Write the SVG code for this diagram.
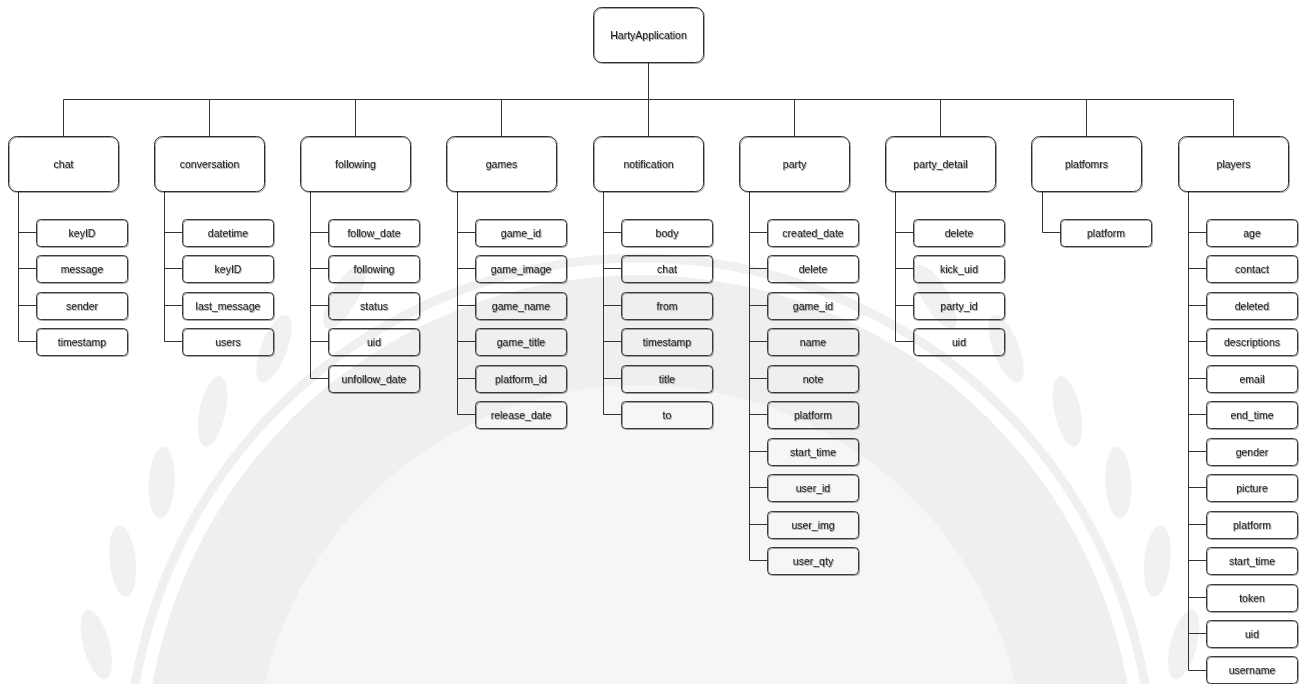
<svg xmlns="http://www.w3.org/2000/svg" xmlns:xlink="http://www.w3.org/1999/xlink" width="1299" height="684" viewBox="0 0 1299 684">
  <style>
    .table rect { fill: none; stroke: #2e2e2e; stroke-width: 1; }
    .field rect { fill: none; stroke: #3a3a3a; stroke-width: 1; }
    text { font-family: "Liberation Sans", Arial, sans-serif; font-size: 10.5px; fill: #222; text-anchor: middle; dominant-baseline: central; }
    .links { fill: none; stroke: #333; stroke-width: 1; }
    .wm-band { fill: #efefef; }
    .wm-inner { fill: #f6f6f6; }
    .wm-ring { fill: none; stroke: #f0f0f0; stroke-width: 9; }
    .wm-leaf { fill: #f1f1f1; }
  </style>
  <defs>
    <filter id="shade" x="-5%" y="-10%" width="115%" height="130%">
      <feDropShadow dx="0.8" dy="0.8" stdDeviation="0.4" flood-color="#000" flood-opacity="0.45"/>
    </filter>
    <ellipse id="leaf" class="wm-leaf" cx="640" cy="212" rx="36" ry="13" transform="rotate(-28 640 212)"/>
  </defs>

  <rect width="1299" height="684" fill="#fff"/>

  <!-- faint background seal -->
  <g id="seal">
    <circle class="wm-band" cx="640" cy="770" r="495"/>
    <circle class="wm-inner" cx="640" cy="770" r="385"/>
    <circle class="wm-ring" cx="640" cy="770" r="512"/>
    <use xlink:href="#leaf" transform="rotate(-86 640 770)"/>
    <use xlink:href="#leaf" transform="rotate(-77 640 770)"/>
    <use xlink:href="#leaf" transform="rotate(-68 640 770)"/>
    <use xlink:href="#leaf" transform="rotate(-59 640 770)"/>
    <use xlink:href="#leaf" transform="rotate(-50 640 770)"/>
    <use xlink:href="#leaf" transform="rotate(-41 640 770)"/>
    <use xlink:href="#leaf" transform="rotate(-32 640 770)"/>
    <use xlink:href="#leaf" transform="rotate(32 640 770) scale(-1 1) translate(-1280 0)"/>
    <use xlink:href="#leaf" transform="rotate(41 640 770) scale(-1 1) translate(-1280 0)"/>
    <use xlink:href="#leaf" transform="rotate(50 640 770) scale(-1 1) translate(-1280 0)"/>
    <use xlink:href="#leaf" transform="rotate(59 640 770) scale(-1 1) translate(-1280 0)"/>
    <use xlink:href="#leaf" transform="rotate(68 640 770) scale(-1 1) translate(-1280 0)"/>
    <use xlink:href="#leaf" transform="rotate(77 640 770) scale(-1 1) translate(-1280 0)"/>
    <use xlink:href="#leaf" transform="rotate(86 640 770) scale(-1 1) translate(-1280 0)"/>
  </g>

  <!-- connectors: root trunk, bus, table drops, field spines and stubs -->
  <g id="connectors" class="links">
    <path d="M648.5 62.5V99.5M63.5 99.5H1233.5"/>
    <path d="M63.5 99.5V136.5M209.5 99.5V136.5M355.5 99.5V136.5M501.5 99.5V136.5M648.5 99.5V136.5M794.5 99.5V136.5M940.5 99.5V136.5M1086.5 99.5V136.5M1233.5 99.5V136.5"/>
    <!-- chat -->
    <path d="M18.5 191.5V341.5M18.5 232.5H36M18.5 268.5H36M18.5 305.5H36M18.5 341.5H36"/>
    <!-- conversation -->
    <path d="M164.5 191.5V341.5M164.5 232.5H182M164.5 268.5H182M164.5 305.5H182M164.5 341.5H182"/>
    <!-- following -->
    <path d="M310.5 191.5V378.5M310.5 232.5H328M310.5 268.5H328M310.5 305.5H328M310.5 341.5H328M310.5 378.5H328"/>
    <!-- games -->
    <path d="M457.5 191.5V414.5M457.5 232.5H475M457.5 268.5H475M457.5 305.5H475M457.5 341.5H475M457.5 378.5H475M457.5 414.5H475"/>
    <!-- notification -->
    <path d="M603.5 191.5V414.5M603.5 232.5H621M603.5 268.5H621M603.5 305.5H621M603.5 341.5H621M603.5 378.5H621M603.5 414.5H621"/>
    <!-- party -->
    <path d="M749.5 191.5V560.5M749.5 232.5H767M749.5 268.5H767M749.5 305.5H767M749.5 341.5H767M749.5 378.5H767M749.5 414.5H767M749.5 451.5H767M749.5 487.5H767M749.5 524.5H767M749.5 560.5H767"/>
    <!-- party_detail -->
    <path d="M895.5 191.5V341.5M895.5 232.5H913M895.5 268.5H913M895.5 305.5H913M895.5 341.5H913"/>
    <!-- platfomrs -->
    <path d="M1042.5 191.5V232.5M1042.5 232.5H1060"/>
    <!-- players -->
    <path d="M1188.5 191.5V670.5M1188.5 232.5H1206M1188.5 268.5H1206M1188.5 305.5H1206M1188.5 341.5H1206M1188.5 378.5H1206M1188.5 414.5H1206M1188.5 451.5H1206M1188.5 487.5H1206M1188.5 524.5H1206M1188.5 560.5H1206M1188.5 597.5H1206M1188.5 633.5H1206M1188.5 670.5H1206"/>
  </g>

  <!-- root -->
  <g id="HartyApplication" class="table" filter="url(#shade)">
    <rect x="593.5" y="7.5" width="110" height="55" rx="8"/>
    <text x="648.5" y="35">HartyApplication</text>
  </g>

  <!-- tables -->
  <g id="chat" class="table" filter="url(#shade)"><rect x="8.5" y="136.5" width="110" height="55" rx="8"/><text x="63.5" y="164">chat</text></g>
  <g id="conversation" class="table" filter="url(#shade)"><rect x="154.5" y="136.5" width="110" height="55" rx="8"/><text x="209.5" y="164">conversation</text></g>
  <g id="following" class="table" filter="url(#shade)"><rect x="300.5" y="136.5" width="110" height="55" rx="8"/><text x="355.5" y="164">following</text></g>
  <g id="games" class="table" filter="url(#shade)"><rect x="446.5" y="136.5" width="110" height="55" rx="8"/><text x="501.5" y="164">games</text></g>
  <g id="notification" class="table" filter="url(#shade)"><rect x="593.5" y="136.5" width="110" height="55" rx="8"/><text x="648.5" y="164">notification</text></g>
  <g id="party" class="table" filter="url(#shade)"><rect x="739.5" y="136.5" width="110" height="55" rx="8"/><text x="794.5" y="164">party</text></g>
  <g id="party_detail" class="table" filter="url(#shade)"><rect x="885.5" y="136.5" width="110" height="55" rx="8"/><text x="940.5" y="164">party_detail</text></g>
  <g id="platfomrs" class="table" filter="url(#shade)"><rect x="1031.5" y="136.5" width="110" height="55" rx="8"/><text x="1086.5" y="164">platfomrs</text></g>
  <g id="players" class="table" filter="url(#shade)"><rect x="1178.5" y="136.5" width="110" height="55" rx="8"/><text x="1233.5" y="164">players</text></g>

  <!-- chat fields -->
  <g id="chat-fields" class="field" filter="url(#shade)">
    <g id="chat-keyID"><rect x="36.5" y="219.5" width="91" height="27" rx="4"/><text x="82" y="233">keyID</text></g>
    <g id="chat-message"><rect x="36.5" y="255.5" width="91" height="27" rx="4"/><text x="82" y="269">message</text></g>
    <g id="chat-sender"><rect x="36.5" y="292.5" width="91" height="27" rx="4"/><text x="82" y="306">sender</text></g>
    <g id="chat-timestamp"><rect x="36.5" y="328.5" width="91" height="27" rx="4"/><text x="82" y="342">timestamp</text></g>
  </g>

  <!-- conversation fields -->
  <g id="conversation-fields" class="field" filter="url(#shade)">
    <g id="conversation-datetime"><rect x="182.5" y="219.5" width="91" height="27" rx="4"/><text x="228" y="233">datetime</text></g>
    <g id="conversation-keyID"><rect x="182.5" y="255.5" width="91" height="27" rx="4"/><text x="228" y="269">keyID</text></g>
    <g id="conversation-last_message"><rect x="182.5" y="292.5" width="91" height="27" rx="4"/><text x="228" y="306">last_message</text></g>
    <g id="conversation-users"><rect x="182.5" y="328.5" width="91" height="27" rx="4"/><text x="228" y="342">users</text></g>
  </g>

  <!-- following fields -->
  <g id="following-fields" class="field" filter="url(#shade)">
    <g id="following-follow_date"><rect x="328.5" y="219.5" width="91" height="27" rx="4"/><text x="374" y="233">follow_date</text></g>
    <g id="following-following"><rect x="328.5" y="255.5" width="91" height="27" rx="4"/><text x="374" y="269">following</text></g>
    <g id="following-status"><rect x="328.5" y="292.5" width="91" height="27" rx="4"/><text x="374" y="306">status</text></g>
    <g id="following-uid"><rect x="328.5" y="328.5" width="91" height="27" rx="4"/><text x="374" y="342">uid</text></g>
    <g id="following-unfollow_date"><rect x="328.5" y="365.5" width="91" height="27" rx="4"/><text x="374" y="379">unfollow_date</text></g>
  </g>

  <!-- games fields -->
  <g id="games-fields" class="field" filter="url(#shade)">
    <g id="games-game_id"><rect x="475.5" y="219.5" width="91" height="27" rx="4"/><text x="521" y="233">game_id</text></g>
    <g id="games-game_image"><rect x="475.5" y="255.5" width="91" height="27" rx="4"/><text x="521" y="269">game_image</text></g>
    <g id="games-game_name"><rect x="475.5" y="292.5" width="91" height="27" rx="4"/><text x="521" y="306">game_name</text></g>
    <g id="games-game_title"><rect x="475.5" y="328.5" width="91" height="27" rx="4"/><text x="521" y="342">game_title</text></g>
    <g id="games-platform_id"><rect x="475.5" y="365.5" width="91" height="27" rx="4"/><text x="521" y="379">platform_id</text></g>
    <g id="games-release_date"><rect x="475.5" y="401.5" width="91" height="27" rx="4"/><text x="521" y="415">release_date</text></g>
  </g>

  <!-- notification fields -->
  <g id="notification-fields" class="field" filter="url(#shade)">
    <g id="notification-body"><rect x="621.5" y="219.5" width="91" height="27" rx="4"/><text x="667" y="233">body</text></g>
    <g id="notification-chat"><rect x="621.5" y="255.5" width="91" height="27" rx="4"/><text x="667" y="269">chat</text></g>
    <g id="notification-from"><rect x="621.5" y="292.5" width="91" height="27" rx="4"/><text x="667" y="306">from</text></g>
    <g id="notification-timestamp"><rect x="621.5" y="328.5" width="91" height="27" rx="4"/><text x="667" y="342">timestamp</text></g>
    <g id="notification-title"><rect x="621.5" y="365.5" width="91" height="27" rx="4"/><text x="667" y="379">title</text></g>
    <g id="notification-to"><rect x="621.5" y="401.5" width="91" height="27" rx="4"/><text x="667" y="415">to</text></g>
  </g>

  <!-- party fields -->
  <g id="party-fields" class="field" filter="url(#shade)">
    <g id="party-created_date"><rect x="767.5" y="219.5" width="91" height="27" rx="4"/><text x="813" y="233">created_date</text></g>
    <g id="party-delete"><rect x="767.5" y="255.5" width="91" height="27" rx="4"/><text x="813" y="269">delete</text></g>
    <g id="party-game_id"><rect x="767.5" y="292.5" width="91" height="27" rx="4"/><text x="813" y="306">game_id</text></g>
    <g id="party-name"><rect x="767.5" y="328.5" width="91" height="27" rx="4"/><text x="813" y="342">name</text></g>
    <g id="party-note"><rect x="767.5" y="365.5" width="91" height="27" rx="4"/><text x="813" y="379">note</text></g>
    <g id="party-platform"><rect x="767.5" y="401.5" width="91" height="27" rx="4"/><text x="813" y="415">platform</text></g>
    <g id="party-start_time"><rect x="767.5" y="438.5" width="91" height="27" rx="4"/><text x="813" y="452">start_time</text></g>
    <g id="party-user_id"><rect x="767.5" y="474.5" width="91" height="27" rx="4"/><text x="813" y="488">user_id</text></g>
    <g id="party-user_img"><rect x="767.5" y="511.5" width="91" height="27" rx="4"/><text x="813" y="525">user_img</text></g>
    <g id="party-user_qty"><rect x="767.5" y="547.5" width="91" height="27" rx="4"/><text x="813" y="561">user_qty</text></g>
  </g>

  <!-- party_detail fields -->
  <g id="party_detail-fields" class="field" filter="url(#shade)">
    <g id="party_detail-delete"><rect x="913.5" y="219.5" width="91" height="27" rx="4"/><text x="959" y="233">delete</text></g>
    <g id="party_detail-kick_uid"><rect x="913.5" y="255.5" width="91" height="27" rx="4"/><text x="959" y="269">kick_uid</text></g>
    <g id="party_detail-party_id"><rect x="913.5" y="292.5" width="91" height="27" rx="4"/><text x="959" y="306">party_id</text></g>
    <g id="party_detail-uid"><rect x="913.5" y="328.5" width="91" height="27" rx="4"/><text x="959" y="342">uid</text></g>
  </g>

  <!-- platfomrs fields -->
  <g id="platfomrs-fields" class="field" filter="url(#shade)">
    <g id="platfomrs-platform"><rect x="1060.5" y="219.5" width="91" height="27" rx="4"/><text x="1106" y="233">platform</text></g>
  </g>

  <!-- players fields -->
  <g id="players-fields" class="field" filter="url(#shade)">
    <g id="players-age"><rect x="1206.5" y="219.5" width="91" height="27" rx="4"/><text x="1252" y="233">age</text></g>
    <g id="players-contact"><rect x="1206.5" y="255.5" width="91" height="27" rx="4"/><text x="1252" y="269">contact</text></g>
    <g id="players-deleted"><rect x="1206.5" y="292.5" width="91" height="27" rx="4"/><text x="1252" y="306">deleted</text></g>
    <g id="players-descriptions"><rect x="1206.5" y="328.5" width="91" height="27" rx="4"/><text x="1252" y="342">descriptions</text></g>
    <g id="players-email"><rect x="1206.5" y="365.5" width="91" height="27" rx="4"/><text x="1252" y="379">email</text></g>
    <g id="players-end_time"><rect x="1206.5" y="401.5" width="91" height="27" rx="4"/><text x="1252" y="415">end_time</text></g>
    <g id="players-gender"><rect x="1206.5" y="438.5" width="91" height="27" rx="4"/><text x="1252" y="452">gender</text></g>
    <g id="players-picture"><rect x="1206.5" y="474.5" width="91" height="27" rx="4"/><text x="1252" y="488">picture</text></g>
    <g id="players-platform"><rect x="1206.5" y="511.5" width="91" height="27" rx="4"/><text x="1252" y="525">platform</text></g>
    <g id="players-start_time"><rect x="1206.5" y="547.5" width="91" height="27" rx="4"/><text x="1252" y="561">start_time</text></g>
    <g id="players-token"><rect x="1206.5" y="584.5" width="91" height="27" rx="4"/><text x="1252" y="598">token</text></g>
    <g id="players-uid"><rect x="1206.5" y="620.5" width="91" height="27" rx="4"/><text x="1252" y="634">uid</text></g>
    <g id="players-username"><rect x="1206.5" y="656.5" width="91" height="27" rx="4"/><text x="1252" y="670">username</text></g>
  </g>
</svg>
